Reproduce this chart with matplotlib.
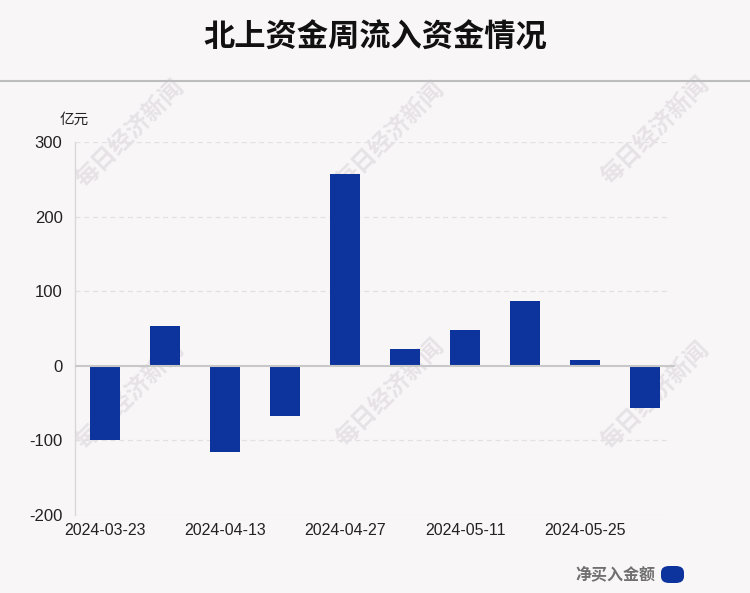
import matplotlib
matplotlib.use("Agg")
import matplotlib.pyplot as plt
from matplotlib.patches import FancyBboxPatch

plt.rcParams['font.family'] = ['Liberation Sans', 'Noto Sans CJK SC', 'DejaVu Sans']

categories = ["2024-03-23", "2024-04-03", "2024-04-13", "2024-04-20", "2024-04-27",
              "2024-04-30", "2024-05-11", "2024-05-18", "2024-05-25", "2024-05-31"]
values = [-100, 54, -115, -67, 257, 23, 48, 87, 8, -57]
yticks = [-200, -100, 0, 100, 200, 300]
title = "北上资金周流入资金情况"
unit = "亿元"
legend_label = "净买入金额"
watermark = "每日经济新闻"

bg = "#f9f6f8"
bar_color = "#0d349d"

fig = plt.figure(figsize=(7.5, 5.93), dpi=100, facecolor=bg)
ax = fig.add_axes([75/750, 1-515/593, 600/750, (515-142)/593])
ax.patch.set_alpha(0)
ax.set_zorder(2)

x = list(range(len(categories)))
ax.bar(x, values, width=0.5, color=bar_color, zorder=3)

ax.set_xlim(-0.5, len(categories)-0.5)
ax.set_ylim(-200, 300)
ax.set_yticks(yticks)
ax.set_yticklabels([str(v) for v in yticks], fontsize=12, color="#222222")
ax.set_xticks(x[::2])
ax.set_xticklabels(categories[::2], fontsize=11.5, color="#222222")
ax.tick_params(axis='both', length=0, pad=6)
ax.tick_params(axis='y', pad=9)

for v in yticks:
    if v == 0:
        ax.axhline(0, color="#c8c8c8", lw=1.5, zorder=4)
    else:
        ax.axhline(v, xmax=595/600, color="#e2e0e2", lw=0.9, ls=(0, (4, 3)), zorder=1)

for s in ['top', 'right', 'bottom']:
    ax.spines[s].set_visible(False)
ax.spines['left'].set_color("#d8d8d8")
ax.spines['left'].set_linewidth(1)

# unit label
fig.text(60/750, 1-120/593, unit, fontsize=10.5, color="#222222",
         family=['Noto Sans CJK SC', 'DejaVu Sans'], ha='left', va='center')

# title
fig.text(0.5, 1-38/593, title, fontsize=22.5, fontweight='bold', color="#111111",
         family=['Noto Sans CJK SC', 'DejaVu Sans'], ha='center', va='center')

# separator line
fig.add_artist(plt.Line2D([0, 1], [1-81/593, 1-81/593], color="#bdbdbd", lw=1.5,
                          transform=fig.transFigure))

# watermarks
for (px, py) in [(130, 133), (390, 135), (655, 130), (130, 395), (390, 392), (655, 395)]:
    t = fig.text(px/750, 1-py/593, watermark, fontsize=17, fontweight='bold', color="#e6e2e5",
                 family=['Noto Sans CJK SC', 'DejaVu Sans'], rotation=45,
                 ha='center', va='center')
    t.set_zorder(1)

# legend
fig.text(655/750, 1-574/593, legend_label, fontsize=11.5, fontweight='bold', color="#707070",
         family=['Noto Sans CJK SC', 'DejaVu Sans'], ha='right', va='center')
pill = FancyBboxPatch((661/750, 1-583/593), 23/750, 17/593,
                      boxstyle="round,pad=0,rounding_size=0.011",
                      transform=fig.transFigure, facecolor=bar_color, edgecolor='none')
fig.add_artist(pill)

fig.savefig("out.png", dpi=100, facecolor=bg)
